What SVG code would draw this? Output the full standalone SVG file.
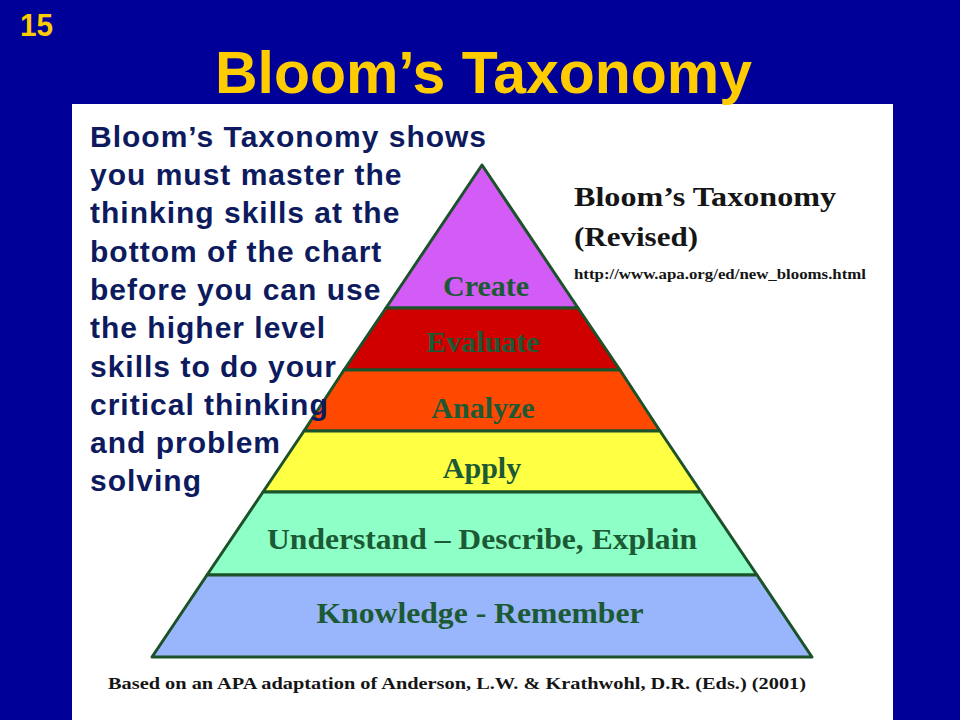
<svg xmlns="http://www.w3.org/2000/svg" width="960" height="720" viewBox="0 0 960 720">
<style>
.lay{stroke:#1b5229;stroke-width:3;stroke-linejoin:round}
.lbl{font-family:"Liberation Serif","Times New Roman",serif;font-weight:bold;font-size:30px;fill:#1b5a34;text-anchor:middle}
.body{font-family:"Liberation Sans",Arial,sans-serif;font-weight:bold;font-size:30px;fill:#0d1b5e;letter-spacing:1px}
.ser{font-family:"Liberation Serif","Times New Roman",serif;font-weight:bold;fill:#151515}
</style>
<rect x="0" y="0" width="960" height="720" fill="#000099"/>
<rect x="72" y="104" width="821" height="616" fill="#ffffff"/>
<text x="20" y="36" font-family="Liberation Sans,Arial,sans-serif" font-weight="bold" font-size="31" fill="#ffcc00" textLength="33" lengthAdjust="spacingAndGlyphs">15</text>
<text x="215" y="93" font-family="Liberation Sans,Arial,sans-serif" font-weight="bold" font-size="60" fill="#ffcc00" textLength="537" lengthAdjust="spacingAndGlyphs">Bloom’s Taxonomy</text>
<g id="pyramid">
<g id="create"><polygon class="lay" points="482,165 578,308 386,308" fill="#d25cf5"/><text class="lbl" x="486" y="296">Create</text></g>
<g id="evaluate"><polygon class="lay" points="386,308 578,308 620,370 344,370" fill="#d00000"/><text class="lbl" x="483" y="352">Evaluate</text></g>
<g id="analyze"><polygon class="lay" points="344,370 620,370 660,431 304,431" fill="#ff4800"/><text class="lbl" x="483" y="418">Analyze</text></g>
<g id="apply"><polygon class="lay" points="304,431 660,431 701,492 263,492" fill="#ffff44"/><text class="lbl" x="482" y="478">Apply</text></g>
<g id="understand"><polygon class="lay" points="263,492 701,492 757,575 207,575" fill="#8effc6"/><text class="lbl" x="482" y="549" textLength="430" lengthAdjust="spacingAndGlyphs">Understand – Describe, Explain</text></g>
<g id="knowledge"><polygon class="lay" points="207,575 757,575 812,657 152,657" fill="#99b5fb"/><text class="lbl" x="480" y="623" textLength="327" lengthAdjust="spacingAndGlyphs">Knowledge - Remember</text></g>
</g>
<g id="caption">
<text class="ser" x="574" y="206" font-size="28" textLength="262" lengthAdjust="spacingAndGlyphs">Bloom’s Taxonomy</text>
<text class="ser" x="574" y="246" font-size="28" textLength="124" lengthAdjust="spacingAndGlyphs">(Revised)</text>
<text class="ser" x="574" y="279" font-size="14" textLength="292" lengthAdjust="spacingAndGlyphs">http://www.apa.org/ed/new_blooms.html</text>
<text class="ser" x="108" y="689" font-size="17" textLength="698" lengthAdjust="spacingAndGlyphs">Based on an APA adaptation of Anderson, L.W. &amp; Krathwohl, D.R. (Eds.) (2001)</text>
</g>
<g id="explanation">
<text class="body" x="90" y="147">Bloom’s Taxonomy shows</text>
<text class="body" x="90" y="185">you must master the</text>
<text class="body" x="90" y="223">thinking skills at the</text>
<text class="body" x="90" y="262">bottom of the chart</text>
<text class="body" x="90" y="300">before you can use</text>
<text class="body" x="90" y="338">the higher level</text>
<text class="body" x="90" y="377">skills to do your</text>
<text class="body" x="90" y="415">critical thinking</text>
<text class="body" x="90" y="453">and problem</text>
<text class="body" x="90" y="491">solving</text>
</g>
</svg>
